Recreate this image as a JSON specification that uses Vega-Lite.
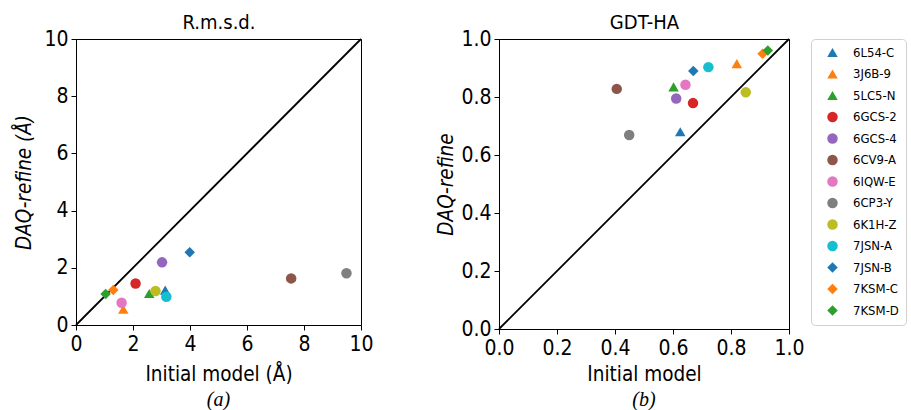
{
  "$schema": "https://vega.github.io/schema/vega-lite/v6.json",
  "padding": {"left": 14, "top": 11, "right": 0, "bottom": 0},
  "datasets": {
    "rmsd": [
      {"s": "6L54-C", "init": 3.13, "daq": 1.22},
      {"s": "3J6B-9", "init": 1.66, "daq": 0.55},
      {"s": "5LC5-N", "init": 2.57, "daq": 1.1},
      {"s": "6GCS-2", "init": 2.09, "daq": 1.45},
      {"s": "6GCS-4", "init": 3.02, "daq": 2.19},
      {"s": "6CV9-A", "init": 7.55, "daq": 1.63},
      {"s": "6IQW-E", "init": 1.6, "daq": 0.78},
      {"s": "6CP3-Y", "init": 9.49, "daq": 1.81},
      {"s": "6K1H-Z", "init": 2.79, "daq": 1.19},
      {"s": "7JSN-A", "init": 3.17, "daq": 0.99},
      {"s": "7JSN-B", "init": 3.99, "daq": 2.54},
      {"s": "7KSM-C", "init": 1.31, "daq": 1.22},
      {"s": "7KSM-D", "init": 1.04, "daq": 1.08}
    ],
    "gdt": [
      {"s": "6L54-C", "init": 0.625, "daq": 0.68},
      {"s": "3J6B-9", "init": 0.82, "daq": 0.915},
      {"s": "5LC5-N", "init": 0.602, "daq": 0.835},
      {"s": "6GCS-2", "init": 0.669, "daq": 0.779},
      {"s": "6GCS-4", "init": 0.611, "daq": 0.795},
      {"s": "6CV9-A", "init": 0.406, "daq": 0.828},
      {"s": "6IQW-E", "init": 0.643, "daq": 0.842},
      {"s": "6CP3-Y", "init": 0.449, "daq": 0.669},
      {"s": "6K1H-Z", "init": 0.851, "daq": 0.816},
      {"s": "7JSN-A", "init": 0.722, "daq": 0.903},
      {"s": "7JSN-B", "init": 0.67, "daq": 0.89},
      {"s": "7KSM-C", "init": 0.909, "daq": 0.949},
      {"s": "7KSM-D", "init": 0.927, "daq": 0.96}
    ]
  },
  "config": {
    "font": "DejaVu Sans Condensed",
    "view": {"stroke": "black", "strokeWidth": 1},
    "axis": {
      "grid": false,
      "domainColor": "black",
      "tickColor": "black",
      "labelColor": "black",
      "titleColor": "black",
      "labelFont": "DejaVu Sans Condensed",
      "titleFont": "DejaVu Sans Condensed",
      "labelFontSize": 21,
      "titleFontSize": 20.5,
      "titleFontWeight": "normal",
      "tickSize": 5,
      "labelPadding": 3,
      "labelFlush": false
    },
    "concat": {"spacing": 62},
    "legend": {
      "orient": "right",
      "offset": 6,
      "labelFont": "DejaVu Sans Condensed",
      "labelFontSize": 13,
      "labelColor": "black",
      "strokeColor": "#d0d0d0",
      "cornerRadius": 4,
      "padding": 7,
      "rowPadding": 7.5,
      "symbolOffset": 8,
      "labelOffset": 14,
      "fillColor": "white"
    }
  },
  "hconcat": [
    {
      "width": 285,
      "height": 286,
      "title": {"text": "(a)", "orient": "bottom", "font": "Liberation Serif", "fontStyle": "italic", "fontWeight": "normal", "fontSize": 20, "offset": 5, "color": "black"},
      "layer": [
        {
          "data": {"values": [{"x0": 0, "y0": 0, "x1": 10, "y1": 10}]},
          "mark": {"type": "rule", "color": "black", "strokeWidth": 1.8},
          "encoding": {
            "x": {"field": "x0", "type": "quantitative", "scale": {"domain": [0, 10]}, "axis": {"orient": "top", "title": "R.m.s.d.", "labels": false, "ticks": false, "domain": false, "titleFontSize": 20, "titlePadding": 7}},
            "y": {"field": "y0", "type": "quantitative", "scale": {"domain": [0, 10]}, "axis": {"title": "DAQ-refine (Å)", "titleFontStyle": "italic", "titlePadding": 9, "values": [0, 2, 4, 6, 8, 10]}},
            "x2": {"field": "x1"},
            "y2": {"field": "y1"}
          }
        },
        {
          "data": {"name": "rmsd"},
          "mark": {"type": "point", "filled": true, "opacity": 1},
          "encoding": {
            "x": {"field": "init", "type": "quantitative", "scale": {"domain": [0, 10]}, "axis": {"orient": "bottom", "title": "Initial model (Å)", "titlePadding": 10, "values": [0, 2, 4, 6, 8, 10], "ticks": true, "domain": true, "labels": true}},
            "y": {"field": "daq", "type": "quantitative", "scale": {"domain": [0, 10]}, "axis": {"title": "DAQ-refine (Å)", "titleFontStyle": "italic", "titlePadding": 9, "values": [0, 2, 4, 6, 8, 10]}},
            "color": {"field": "s", "type": "nominal", "legend": {"title": null}, "scale": {"domain": ["6L54-C", "3J6B-9", "5LC5-N", "6GCS-2", "6GCS-4", "6CV9-A", "6IQW-E", "6CP3-Y", "6K1H-Z", "7JSN-A", "7JSN-B", "7KSM-C", "7KSM-D"], "range": ["#1f77b4", "#ff7f0e", "#2ca02c", "#d62728", "#9467bd", "#8c564b", "#e377c2", "#7f7f7f", "#bcbd22", "#17becf", "#1f77b4", "#ff7f0e", "#2ca02c"]}},
            "shape": {"field": "s", "type": "nominal", "legend": {"title": null}, "scale": {"domain": ["6L54-C", "3J6B-9", "5LC5-N", "6GCS-2", "6GCS-4", "6CV9-A", "6IQW-E", "6CP3-Y", "6K1H-Z", "7JSN-A", "7JSN-B", "7KSM-C", "7KSM-D"], "range": ["triangle-up", "triangle-up", "triangle-up", "circle", "circle", "circle", "circle", "circle", "circle", "circle", "diamond", "diamond", "diamond"]}},
            "size": {"field": "s", "type": "nominal", "legend": {"title": null}, "scale": {"domain": ["6L54-C", "3J6B-9", "5LC5-N", "6GCS-2", "6GCS-4", "6CV9-A", "6IQW-E", "6CP3-Y", "6K1H-Z", "7JSN-A", "7JSN-B", "7KSM-C", "7KSM-D"], "range": [110, 110, 110, 100, 100, 100, 100, 100, 100, 100, 270, 270, 270]}}
          }
        }
      ],
      "resolve": {"axis": {"x": "independent"}}
    },
    {
      "width": 290,
      "height": 290,
      "title": {"text": "(b)", "orient": "bottom", "font": "Liberation Serif", "fontStyle": "italic", "fontWeight": "normal", "fontSize": 20, "offset": 5, "color": "black"},
      "layer": [
        {
          "data": {"values": [{"x0": 0, "y0": 0, "x1": 1, "y1": 1}]},
          "mark": {"type": "rule", "color": "black", "strokeWidth": 1.8},
          "encoding": {
            "x": {"field": "x0", "type": "quantitative", "scale": {"domain": [0, 1]}, "axis": {"orient": "top", "title": "GDT-HA", "labels": false, "ticks": false, "domain": false, "titleFontSize": 20, "titlePadding": 7}},
            "y": {"field": "y0", "type": "quantitative", "scale": {"domain": [0, 1]}, "axis": {"title": "DAQ-refine", "titleFontStyle": "italic", "values": [0, 0.2, 0.4, 0.6, 0.8, 1], "format": ".1f"}},
            "x2": {"field": "x1"},
            "y2": {"field": "y1"}
          }
        },
        {
          "data": {"name": "gdt"},
          "mark": {"type": "point", "filled": true, "opacity": 1},
          "encoding": {
            "x": {"field": "init", "type": "quantitative", "scale": {"domain": [0, 1]}, "axis": {"orient": "bottom", "title": "Initial model", "titlePadding": 6, "values": [0, 0.2, 0.4, 0.6, 0.8, 1], "format": ".1f", "ticks": true, "domain": true, "labels": true}},
            "y": {"field": "daq", "type": "quantitative", "scale": {"domain": [0, 1]}, "axis": {"title": "DAQ-refine", "titleFontStyle": "italic", "values": [0, 0.2, 0.4, 0.6, 0.8, 1], "format": ".1f"}},
            "color": {"field": "s", "type": "nominal", "legend": {"title": null}},
            "shape": {"field": "s", "type": "nominal", "legend": {"title": null}},
            "size": {"field": "s", "type": "nominal", "legend": {"title": null}}
          }
        }
      ],
      "resolve": {"axis": {"x": "independent"}}
    }
  ]
}
